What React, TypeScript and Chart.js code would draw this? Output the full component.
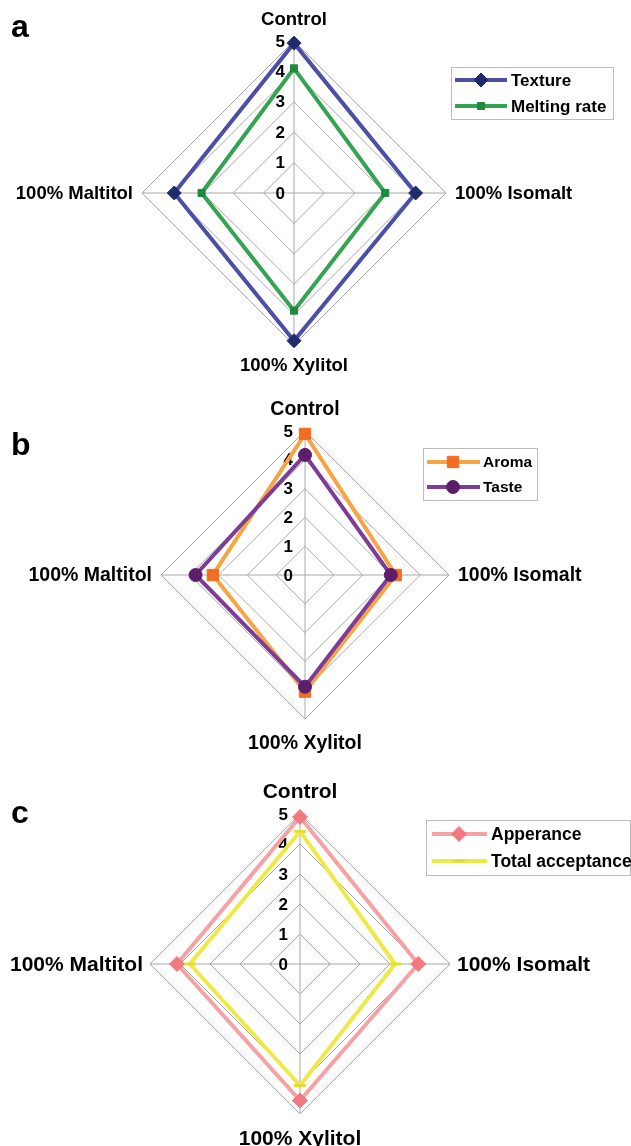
import React, { useEffect, useRef } from 'react';
import { Chart, registerables } from 'chart.js';
import { drawPoint } from 'chart.js/helpers';

Chart.register(...registerables);

const FONT = "'Liberation Sans', Arial, sans-serif";

// ---- data ----
const axisLabels = ['Control', '100% Isomalt', '100% Xylitol', '100% Maltitol'];
const tickValues = [0, 1, 2, 3, 4, 5];

const textureValues = [4.93, 4.0, 4.86, 3.94];
const meltingRateValues = [4.1, 3.0, 3.87, 3.04];

const aromaValues = [4.9, 3.15, 4.05, 3.2];
const tasteValues = [4.17, 2.98, 3.88, 3.8];

const appearanceValues = [4.9, 3.94, 4.55, 4.1];
const totalAcceptanceValues = [4.42, 3.17, 4.05, 3.67];

const panelLetters = ['a', 'b', 'c'];
const seriesNamesA = ['Texture', 'Melting rate'];
const seriesNamesB = ['Aroma', 'Taste'];
const seriesNamesC = ['Apperance', 'Total acceptance'];

// ---- styling / layout ----
type Series = {
  label: string;
  data: number[];
  line: string;
  marker: string;
  pointStyle: string;
  radius: number;
  pointBorder: number;
  order: number;
};

type Panel = {
  letter: string;
  letterY: number;
  pad: { left: number; right: number; top: number; bottom: number };
  labelFont: number;
  topGap: number;
  bottomGap: number;
  sideGap: number;
  tickGap: number;
  legend: {
    x1: number; y1: number; x2: number; y2: number;
    rows: number[]; lineX1: number; lineX2: number; markerX: number; textX: number; font: number;
  };
  series: Series[];
};

const panels: Panel[] = [
  {
    letter: panelLetters[0],
    letterY: 37,
    pad: { left: 142, right: 185, top: 41, bottom: 37 },
    labelFont: 18.5,
    topGap: 16,
    bottomGap: 13,
    sideGap: 9,
    tickGap: 9,
    legend: { x1: 451, y1: 67, x2: 613, y2: 119, rows: [80, 106], lineX1: 455, lineX2: 507, markerX: 481, textX: 511, font: 17 },
    series: [
      { label: seriesNamesA[0], data: textureValues, line: '#4B4FA6', marker: '#1F2B6C', pointStyle: 'rectRot', radius: 7, pointBorder: 1, order: 0 },
      { label: seriesNamesA[1], data: meltingRateValues, line: '#35A452', marker: '#1E8A3E', pointStyle: 'rect', radius: 5, pointBorder: 1, order: 1 },
    ],
  },
  {
    letter: panelLetters[1],
    letterY: 73,
    pad: { left: 161, right: 182, top: 49, bottom: 45 },
    labelFont: 19.5,
    topGap: 16,
    bottomGap: 16,
    sideGap: 9,
    tickGap: 12,
    legend: { x1: 423, y1: 66, x2: 537, y2: 118, rows: [80, 105], lineX1: 427, lineX2: 480, markerX: 453, textX: 483, font: 15.5 },
    series: [
      { label: seriesNamesB[0], data: aromaValues, line: '#F8A442', marker: '#F26C22', pointStyle: 'rect', radius: 8, pointBorder: 1, order: 1 },
      { label: seriesNamesB[1], data: tasteValues, line: '#7D3C98', marker: '#5C1E6B', pointStyle: 'circle', radius: 6.5, pointBorder: 1, order: 0 },
    ],
  },
  {
    letter: panelLetters[2],
    letterY: 59,
    pad: { left: 150, right: 181, top: 50, bottom: 32 },
    labelFont: 21,
    topGap: 16,
    bottomGap: 16,
    sideGap: 7,
    tickGap: 12,
    legend: { x1: 426, y1: 56, x2: 630, y2: 111, rows: [70, 97], lineX1: 432, lineX2: 487, markerX: 459, textX: 491, font: 17.5 },
    series: [
      { label: seriesNamesC[0], data: appearanceValues, line: '#F4A2A4', marker: '#F07A7F', pointStyle: 'rectRot', radius: 7.5, pointBorder: 1, order: 1 },
      { label: seriesNamesC[1], data: totalAcceptanceValues, line: '#EDE945', marker: '#E4DE34', pointStyle: 'line', radius: 6, pointBorder: 3, order: 0 },
    ],
  },
];

const W = 631;
const H = 382;

function makeDecor(cfg: Panel) {
  return {
    id: 'decor_' + cfg.letter,
    beforeDatasetsDraw(chart: any) {
      const s = chart.scales.r;
      const ctx = chart.ctx;
      ctx.save();
      ctx.font = `bold 17px ${FONT}`;
      ctx.fillStyle = '#000';
      ctx.textAlign = 'right';
      ctx.textBaseline = 'middle';
      tickValues.forEach((v) => {
        const d = s.getDistanceFromCenterForValue(v);
        ctx.fillText(String(v), s.xCenter - cfg.tickGap, s.yCenter - d + 1);
      });
      ctx.restore();
    },
    afterDraw(chart: any) {
      const s = chart.scales.r;
      const ctx = chart.ctx;
      ctx.save();
      // axis (point) labels
      ctx.font = `bold ${cfg.labelFont}px ${FONT}`;
      ctx.fillStyle = '#000';
      const cap = cfg.labelFont * 0.716;
      axisLabels.forEach((text, i) => {
        const base = s.getPointPosition(i, s.drawingArea);
        const dx = base.x - s.xCenter;
        const dy = base.y - s.yCenter;
        if (Math.abs(dx) < 1) {
          ctx.textAlign = 'center';
          ctx.textBaseline = 'alphabetic';
          const p = dy < 0
            ? s.getPointPosition(i, s.drawingArea + cfg.topGap)
            : s.getPointPosition(i, s.drawingArea + cfg.bottomGap + cap);
          ctx.fillText(text, p.x, p.y);
        } else {
          ctx.textAlign = dx > 0 ? 'left' : 'right';
          ctx.textBaseline = 'middle';
          const p = s.getPointPosition(i, s.drawingArea + cfg.sideGap);
          ctx.fillText(text, p.x, p.y + 1);
        }
      });

      // panel letter
      ctx.font = `bold 32px ${FONT}`;
      ctx.textAlign = 'left';
      ctx.textBaseline = 'alphabetic';
      ctx.fillText(cfg.letter, 11, cfg.letterY);

      // legend
      const L = cfg.legend;
      ctx.strokeStyle = '#BDBDBD';
      ctx.lineWidth = 1;
      ctx.strokeRect(L.x1 + 0.5, L.y1 + 0.5, L.x2 - L.x1, L.y2 - L.y1);
      cfg.series.forEach((sr, i) => {
        const y = L.rows[i];
        ctx.strokeStyle = sr.line;
        ctx.lineWidth = 4;
        ctx.beginPath();
        ctx.moveTo(L.lineX1, y);
        ctx.lineTo(L.lineX2, y);
        ctx.stroke();
        ctx.fillStyle = sr.marker;
        ctx.strokeStyle = sr.marker;
        ctx.lineWidth = sr.pointBorder;
        drawPoint(ctx, { pointStyle: sr.pointStyle as any, rotation: 0, radius: sr.radius, borderWidth: sr.pointBorder }, L.markerX, y);
        ctx.fillStyle = '#000';
        ctx.font = `bold ${L.font}px ${FONT}`;
        ctx.textAlign = 'left';
        ctx.textBaseline = 'middle';
        ctx.fillText(sr.label, L.textX, y + 1);
      });
      ctx.restore();
    },
  };
}

function RadarPanel({ cfg }: { cfg: Panel }) {
  const ref = useRef<HTMLCanvasElement>(null);
  useEffect(() => {
    if (!ref.current) return;
    const chart = new Chart(ref.current, {
      type: 'radar',
      data: {
        labels: axisLabels,
        datasets: cfg.series.map((sr) => ({
          label: sr.label,
          data: sr.data,
          borderColor: sr.line,
          borderWidth: 4,
          backgroundColor: 'transparent',
          fill: false,
          tension: 0,
          pointStyle: sr.pointStyle as any,
          pointRadius: sr.radius,
          pointBackgroundColor: sr.marker,
          pointBorderColor: sr.marker,
          pointBorderWidth: sr.pointBorder,
          order: sr.order,
        })),
      },
      options: {
        responsive: false,
        animation: false,
        events: [],
        layout: { padding: cfg.pad },
        plugins: { legend: { display: false }, tooltip: { enabled: false } },
        scales: {
          r: {
            min: 0,
            max: 5,
            ticks: { stepSize: 1, display: false },
            grid: { color: '#A8A8A8', lineWidth: 1 },
            angleLines: { color: '#A8A8A8', lineWidth: 1 },
            pointLabels: { display: false },
          },
        },
      } as any,
      plugins: [makeDecor(cfg)],
    });
    return () => chart.destroy();
  }, [cfg]);
  return <canvas ref={ref} width={W} height={H} style={{ display: 'block', width: W, height: H }} />;
}

export default function App() {
  useEffect(() => {
    document.body.style.margin = '0';
    document.body.style.background = '#fff';
  }, []);
  return (
    <div style={{ width: W, height: H * 3, background: '#fff' }}>
      {panels.map((p) => (
        <RadarPanel key={p.letter} cfg={p} />
      ))}
    </div>
  );
}
